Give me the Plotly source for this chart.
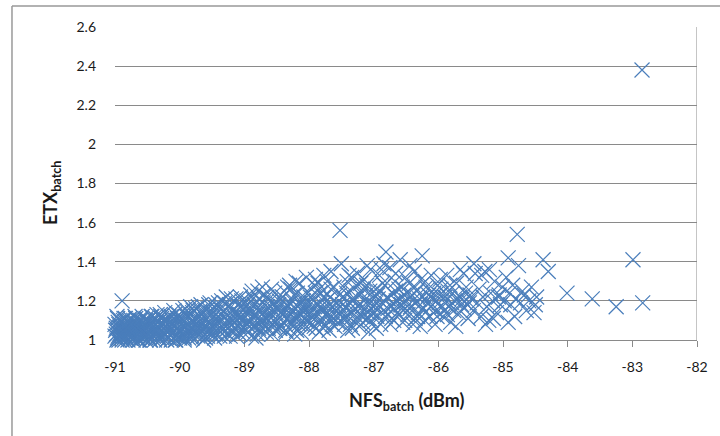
import plotly.graph_objects as go

# NFS_batch (dBm) readings and matching ETX_batch values, grouped by half-dB bands
nfs_a = [-91.00, -90.98, -90.97, -90.95, -90.93, -90.92, -90.90, -90.88, -90.87, -90.85,
         -90.84, -90.82, -90.80, -90.79, -90.77, -90.75, -90.74, -90.72, -90.70, -90.69,
         -90.67, -90.65, -90.63, -90.62, -90.60, -90.58, -90.57, -90.55, -90.53, -90.51,
         -90.99, -90.96, -90.94, -90.91, -90.89, -90.86, -90.83, -90.81, -90.78, -90.76,
         -90.73, -90.71, -90.68, -90.66, -90.64, -90.61, -90.59, -90.56, -90.54, -90.52,
         -90.97, -90.91, -90.86, -90.80, -90.74, -90.69, -90.63, -90.58, -90.53, -90.50,
         -90.89,
         -91.00, -90.98, -90.96, -90.94, -90.92, -90.90, -90.88, -90.86, -90.84, -90.82,
         -90.80, -90.78, -90.76, -90.74, -90.72, -90.70, -90.68, -90.66, -90.64, -90.62,
         -90.60, -90.58, -90.56, -90.54, -90.52, -90.50, -90.95, -90.85, -90.75, -90.65]
etx_a = [1.02, 1.06, 1.00, 1.09, 1.03, 1.07, 1.01, 1.05, 1.10, 1.02,
         1.08, 1.04, 1.00, 1.06, 1.11, 1.03, 1.07, 1.01, 1.09, 1.04,
         1.02, 1.08, 1.05, 1.00, 1.10, 1.03, 1.06, 1.01, 1.08, 1.04,
         1.05, 1.01, 1.08, 1.04, 1.00, 1.07, 1.02, 1.09, 1.03, 1.01,
         1.05, 1.10, 1.02, 1.06, 1.00, 1.04, 1.07, 1.02, 1.05, 1.00,
         1.12, 1.03, 1.11, 1.06, 1.02, 1.12, 1.07, 1.01, 1.10, 1.03,
         1.20,
         1.08, 1.03, 1.11, 1.00, 1.06, 1.09, 1.02, 1.04, 1.11, 1.07,
         1.03, 1.10, 1.05, 1.09, 1.00, 1.06, 1.11, 1.03, 1.08, 1.10,
         1.05, 1.12, 1.09, 1.03, 1.11, 1.07, 1.02, 1.00, 1.08, 1.01]

nfs_b = [-90.49, -90.47, -90.45, -90.43, -90.41, -90.39, -90.37, -90.35, -90.33, -90.31,
         -90.29, -90.27, -90.25, -90.23, -90.21, -90.19, -90.17, -90.15, -90.13, -90.11,
         -90.09, -90.07, -90.05, -90.03, -90.01,
         -90.48, -90.44, -90.40, -90.36, -90.32, -90.28, -90.24, -90.20, -90.16, -90.12,
         -90.08, -90.04, -90.00,
         -90.46, -90.38, -90.30, -90.22, -90.14, -90.06,
         -90.49, -90.47, -90.45, -90.43, -90.41, -90.39, -90.37, -90.35, -90.33, -90.31,
         -90.29, -90.27, -90.25, -90.23, -90.21, -90.19, -90.17, -90.15, -90.13, -90.11,
         -90.09, -90.07, -90.05, -90.03, -90.01]
etx_b = [1.06, 1.01, 1.09, 1.03, 1.07, 1.00, 1.11, 1.04, 1.02, 1.08,
         1.05, 1.01, 1.10, 1.03, 1.07, 1.02, 1.12, 1.05, 1.00, 1.09,
         1.04, 1.07, 1.02, 1.11, 1.05,
         1.03, 1.12, 1.05, 1.08, 1.01, 1.11, 1.06, 1.00, 1.09, 1.03,
         1.13, 1.06, 1.01,
         1.00, 1.04, 1.13, 1.09, 1.07, 1.00,
         1.10, 1.04, 1.00, 1.12, 1.02, 1.08, 1.05, 1.13, 1.07, 1.00,
         1.12, 1.08, 1.03, 1.14, 1.10, 1.06, 1.01, 1.09, 1.12, 1.04,
         1.15, 1.00, 1.10, 1.03, 1.13]

nfs_c = [-89.98, -89.96, -89.94, -89.92, -89.90, -89.88, -89.86, -89.84, -89.82, -89.80,
         -89.78, -89.76, -89.74, -89.72, -89.70, -89.68, -89.66, -89.64, -89.62, -89.60,
         -89.58, -89.56, -89.54, -89.52, -89.50,
         -89.97, -89.93, -89.89, -89.85, -89.81, -89.77, -89.73, -89.69, -89.65, -89.61,
         -89.57, -89.53,
         -89.91, -89.79, -89.71, -89.63, -89.55,
         -89.99, -89.97, -89.95, -89.93, -89.91, -89.89, -89.87, -89.85, -89.83, -89.81,
         -89.79, -89.77, -89.75, -89.73, -89.71, -89.69, -89.67, -89.65, -89.63, -89.61,
         -89.59, -89.57, -89.55, -89.53, -89.51]
etx_c = [1.04, 1.10, 1.02, 1.07, 1.13, 1.05, 1.01, 1.09, 1.06, 1.14,
         1.03, 1.08, 1.11, 1.02, 1.06, 1.15, 1.04, 1.09, 1.12, 1.01,
         1.07, 1.16, 1.05, 1.10, 1.03,
         1.08, 1.00, 1.12, 1.04, 1.01, 1.11, 1.07, 1.03, 1.13, 1.06,
         1.02, 1.14,
         1.16, 1.15, 1.17, 1.00, 1.18,
         1.11, 1.06, 1.15, 1.01, 1.09, 1.03, 1.14, 1.07, 1.17, 1.02,
         1.10, 1.05, 1.16, 1.08, 1.03, 1.12, 1.18, 1.06, 1.02, 1.15,
         1.11, 1.04, 1.09, 1.19, 1.07]

nfs_d = [-89.49, -89.47, -89.45, -89.43, -89.41, -89.39, -89.37, -89.35, -89.33, -89.31,
         -89.29, -89.27, -89.25, -89.23, -89.21, -89.19, -89.17, -89.15, -89.13, -89.11,
         -89.09, -89.07, -89.05, -89.03, -89.01,
         -89.46, -89.40, -89.34, -89.28, -89.22, -89.16, -89.10, -89.04,
         -89.44, -89.32, -89.20, -89.08,
         -89.48, -89.46, -89.44, -89.42, -89.40, -89.38, -89.36, -89.34, -89.32, -89.30,
         -89.28, -89.26, -89.24, -89.22, -89.20, -89.18, -89.16, -89.14, -89.12, -89.10,
         -89.08, -89.06, -89.04, -89.02, -89.00]
etx_d = [1.07, 1.12, 1.03, 1.16, 1.09, 1.05, 1.13, 1.20, 1.08, 1.02,
         1.14, 1.10, 1.06, 1.18, 1.11, 1.04, 1.15, 1.09, 1.21, 1.07,
         1.13, 1.03, 1.17, 1.10, 1.06,
         1.01, 1.19, 1.05, 1.22, 1.02, 1.12, 1.04, 1.20,
         1.10, 1.15, 1.08, 1.11,
         1.14, 1.04, 1.18, 1.08, 1.12, 1.02, 1.16, 1.10, 1.06, 1.19,
         1.13, 1.03, 1.17, 1.09, 1.21, 1.05, 1.14, 1.11, 1.02, 1.18,
         1.07, 1.22, 1.12, 1.04, 1.16]

nfs_e = [-88.99, -88.97, -88.95, -88.93, -88.91, -88.89, -88.87, -88.85, -88.83, -88.81,
         -88.79, -88.77, -88.75, -88.73, -88.71, -88.69, -88.67, -88.65, -88.63, -88.61,
         -88.59, -88.57, -88.55, -88.53, -88.51,
         -88.96, -88.90, -88.84, -88.78, -88.72, -88.66, -88.60, -88.54,
         -88.94, -88.82, -88.70, -88.58,
         -88.98, -88.96, -88.94, -88.92, -88.90, -88.88, -88.86, -88.84, -88.82, -88.80,
         -88.78, -88.76, -88.74, -88.72, -88.70, -88.68, -88.66, -88.64, -88.62, -88.60,
         -88.58, -88.56, -88.54, -88.52, -88.50]
etx_e = [1.12, 1.05, 1.18, 1.09, 1.14, 1.02, 1.21, 1.11, 1.07, 1.16,
         1.25, 1.10, 1.04, 1.13, 1.19, 1.08, 1.15, 1.22, 1.06, 1.12,
         1.17, 1.03, 1.10, 1.24, 1.14,
         1.08, 1.23, 1.13, 1.06, 1.27, 1.11, 1.20, 1.07,
         1.16, 1.01, 1.10, 1.13,
         1.09, 1.20, 1.04, 1.15, 1.11, 1.25, 1.07, 1.18, 1.13, 1.03,
         1.21, 1.16, 1.09, 1.06, 1.23, 1.12, 1.04, 1.17, 1.10, 1.14,
         1.26, 1.08, 1.19, 1.05, 1.16]

nfs_f = [-88.49, -88.47, -88.45, -88.43, -88.41, -88.39, -88.37, -88.35, -88.33, -88.31,
         -88.29, -88.27, -88.25, -88.23, -88.21, -88.19, -88.17, -88.15, -88.13, -88.11,
         -88.09, -88.07, -88.05, -88.03, -88.01,
         -88.46, -88.40, -88.34, -88.28, -88.22, -88.16, -88.10, -88.04,
         -88.44, -88.32, -88.20, -88.08,
         -88.48, -88.46, -88.44, -88.42, -88.40, -88.38, -88.36, -88.34, -88.32, -88.30,
         -88.28, -88.26, -88.24, -88.22, -88.20, -88.18, -88.16, -88.14, -88.12, -88.10,
         -88.08, -88.06, -88.04, -88.02, -88.00]
etx_f = [1.10, 1.18, 1.06, 1.14, 1.22, 1.09, 1.16, 1.04, 1.27, 1.12,
         1.19, 1.08, 1.15, 1.23, 1.11, 1.05, 1.17, 1.29, 1.13, 1.08,
         1.20, 1.15, 1.10, 1.25, 1.06,
         1.20, 1.13, 1.11, 1.26, 1.03, 1.12, 1.17, 1.32,
         1.07, 1.17, 1.30, 1.14,
         1.16, 1.06, 1.21, 1.13, 1.09, 1.25, 1.05, 1.18, 1.14, 1.28,
         1.10, 1.20, 1.07, 1.16, 1.12, 1.24, 1.08, 1.19, 1.04, 1.15,
         1.22, 1.11, 1.18, 1.09, 1.13]

nfs_g = [-87.99, -87.97, -87.95, -87.93, -87.91, -87.89, -87.87, -87.85, -87.83, -87.81,
         -87.79, -87.77, -87.75, -87.73, -87.71, -87.69, -87.67, -87.65, -87.63, -87.61,
         -87.59, -87.57, -87.55, -87.53, -87.51,
         -87.96, -87.90, -87.84, -87.78, -87.72, -87.66, -87.60, -87.54,
         -87.52, -87.50,
         -87.98, -87.96, -87.94, -87.92, -87.90, -87.88, -87.86, -87.84, -87.82, -87.80,
         -87.78, -87.76, -87.74, -87.72, -87.70, -87.68, -87.66, -87.64, -87.62, -87.58]
etx_g = [1.15, 1.09, 1.21, 1.12, 1.28, 1.06, 1.18, 1.13, 1.24, 1.10,
         1.16, 1.33, 1.08, 1.20, 1.14, 1.05, 1.22, 1.17, 1.11, 1.27,
         1.15, 1.19, 1.09, 1.23, 1.13,
         1.19, 1.31, 1.04, 1.25, 1.12, 1.35, 1.07, 1.18,
         1.56, 1.39,
         1.22, 1.12, 1.17, 1.07, 1.24, 1.14, 1.29, 1.10, 1.19, 1.15,
         1.06, 1.22, 1.13, 1.30, 1.17, 1.11, 1.26, 1.08, 1.20, 1.12]

nfs_h = [-87.49, -87.47, -87.45, -87.43, -87.41, -87.39, -87.37, -87.35, -87.33, -87.31,
         -87.29, -87.27, -87.25, -87.23, -87.21, -87.19, -87.17, -87.15, -87.13, -87.11,
         -87.09, -87.07, -87.05, -87.03, -87.01,
         -87.46, -87.40, -87.34, -87.28, -87.22, -87.16, -87.10, -87.04,
         -87.44, -87.32, -87.20, -87.08,
         -87.48, -87.45, -87.42, -87.39, -87.36, -87.33, -87.30, -87.27, -87.24, -87.21,
         -87.18, -87.15, -87.12, -87.09, -87.06, -87.03, -87.00, -87.38]
etx_h = [1.14, 1.22, 1.08, 1.17, 1.30, 1.12, 1.19, 1.25, 1.06, 1.15,
         1.21, 1.10, 1.34, 1.18, 1.13, 1.24, 1.09, 1.20, 1.16, 1.28,
         1.11, 1.19, 1.36, 1.14, 1.22,
         1.27, 1.05, 1.32, 1.16, 1.07, 1.26, 1.38, 1.10,
         1.12, 1.20, 1.29, 1.04,
         1.18, 1.11, 1.24, 1.15, 1.08, 1.21, 1.13, 1.28, 1.17, 1.23,
         1.12, 1.31, 1.19, 1.14, 1.25, 1.08, 1.17, 1.33]

nfs_i = [-86.99, -86.97, -86.95, -86.93, -86.91, -86.89, -86.87, -86.85, -86.83, -86.81,
         -86.79, -86.77, -86.75, -86.73, -86.71, -86.69, -86.67, -86.65, -86.63, -86.61,
         -86.59, -86.57, -86.55, -86.53, -86.51,
         -86.96, -86.90, -86.84, -86.78, -86.72, -86.66, -86.60, -86.54,
         -86.98, -86.94, -86.90, -86.86, -86.82, -86.78, -86.74, -86.70, -86.66, -86.62,
         -86.58, -86.56, -86.52, -86.88, -86.68]
etx_i = [1.18, 1.26, 1.12, 1.21, 1.33, 1.08, 1.19, 1.15, 1.28, 1.45,
         1.22, 1.13, 1.37, 1.17, 1.24, 1.10, 1.30, 1.20, 1.14, 1.26,
         1.41, 1.18, 1.09, 1.23, 1.32,
         1.06, 1.25, 1.39, 1.16, 1.11, 1.34, 1.21, 1.15,
         1.14, 1.23, 1.17, 1.29, 1.12, 1.21, 1.08, 1.19, 1.25, 1.13,
         1.18, 1.27, 1.10, 1.36, 1.16]

nfs_j = [-86.49, -86.47, -86.45, -86.43, -86.41, -86.39, -86.37, -86.35, -86.33, -86.31,
         -86.29, -86.27, -86.25, -86.23, -86.21, -86.19, -86.17, -86.15, -86.13, -86.11,
         -86.09, -86.07, -86.05, -86.03, -86.01,
         -86.44, -86.36, -86.28, -86.20, -86.12, -86.04,
         -86.48, -86.44, -86.40, -86.36, -86.32, -86.28, -86.24, -86.20, -86.16, -86.12,
         -86.08, -86.02]
etx_j = [1.20, 1.13, 1.29, 1.17, 1.23, 1.08, 1.35, 1.19, 1.25, 1.14,
         1.21, 1.31, 1.43, 1.16, 1.10, 1.27, 1.19, 1.23, 1.12, 1.33,
         1.18, 1.24, 1.08, 1.20, 1.28,
         1.38, 1.11, 1.07, 1.30, 1.22, 1.15,
         1.24, 1.16, 1.20, 1.27, 1.12, 1.18, 1.22, 1.14, 1.26, 1.17,
         1.21, 1.12]

nfs_k = [-85.99, -85.96, -85.93, -85.90, -85.87, -85.84, -85.81, -85.78, -85.75, -85.72,
         -85.69, -85.66, -85.63, -85.60, -85.57, -85.54, -85.51,
         -85.97, -85.91, -85.85, -85.79, -85.73, -85.67, -85.61, -85.55,
         -85.98, -85.94, -85.88, -85.82, -85.76, -85.70, -85.64, -85.58, -85.52, -85.86]
etx_k = [1.19, 1.26, 1.12, 1.22, 1.33, 1.17, 1.09, 1.24, 1.20, 1.29,
         1.14, 1.36, 1.21, 1.16, 1.27, 1.11, 1.23,
         1.31, 1.15, 1.25, 1.19, 1.07, 1.22, 1.34, 1.18,
         1.23, 1.17, 1.20, 1.28, 1.15, 1.21, 1.18, 1.24, 1.19, 1.13]

nfs_l = [-85.49, -85.46, -85.43, -85.40, -85.37, -85.34, -85.31, -85.28, -85.25, -85.22,
         -85.19, -85.16, -85.13, -85.10, -85.07, -85.04, -85.01,
         -85.45, -85.33, -85.27, -85.21, -85.15, -85.06]
etx_l = [1.21, 1.15, 1.34, 1.19, 1.26, 1.12, 1.22, 1.35, 1.17, 1.10,
         1.24, 1.20, 1.30, 1.14, 1.22, 1.18, 1.27,
         1.39, 1.33, 1.08, 1.36, 1.11, 1.23]

nfs_m = [-84.98, -84.95, -84.92, -84.92, -84.90, -84.88, -84.85, -84.82, -84.80, -84.78,
         -84.76, -84.73, -84.70, -84.67, -84.64, -84.60, -84.56, -84.52, -84.50, -84.48,
         -84.38, -84.30, -84.01, -83.62, -83.25, -82.99, -82.84, -82.85]
etx_m = [1.20, 1.32, 1.42, 1.09, 1.24, 1.18, 1.28, 1.12, 1.21, 1.54,
         1.38, 1.19, 1.25, 1.23, 1.15, 1.20, 1.27, 1.14, 1.18, 1.22,
         1.41, 1.35, 1.24, 1.21, 1.17, 1.41, 1.19, 2.38]

nfs = (nfs_a + nfs_b + nfs_c + nfs_d + nfs_e + nfs_f + nfs_g
       + nfs_h + nfs_i + nfs_j + nfs_k + nfs_l + nfs_m)
etx = (etx_a + etx_b + etx_c + etx_d + etx_e + etx_f + etx_g
       + etx_h + etx_i + etx_j + etx_k + etx_l + etx_m)

x_ticks = [-91, -90, -89, -88, -87, -86, -85, -84, -83, -82]
x_labels = ["-91", "-90", "-89", "-88", "-87", "-86", "-85", "-84", "-83", "-82"]
y_ticks = [1, 1.2, 1.4, 1.6, 1.8, 2, 2.2, 2.4, 2.6]
y_labels = ["1", "1.2", "1.4", "1.6", "1.8", "2", "2.2", "2.4", "2.6"]

FONT = "Lato, 'Open Sans', sans-serif"
TEXT = "#1a1a1a"
GRID = "#8a8a8a"
BLUE = "#4a7ebb"

fig = go.Figure()
fig.add_trace(go.Scatter(
    x=nfs, y=etx, mode="markers", cliponaxis=False,
    marker=dict(symbol="x-thin", size=15, color=BLUE,
                line=dict(color=BLUE, width=1.2)),
    hoverinfo="x+y", showlegend=False,
))

fig.update_layout(
    width=720, height=436,
    margin=dict(l=115, r=23, t=27, b=96),
    paper_bgcolor="white", plot_bgcolor="white",
    font=dict(family=FONT, size=14, color=TEXT),
    xaxis=dict(
        range=[-91, -82], tickvals=x_ticks, ticktext=x_labels,
        showgrid=False, zeroline=False, layer="below traces",
        showline=True, linecolor=GRID, linewidth=1,
        ticks="outside", ticklen=6, tickcolor=GRID, tickwidth=1,
        ticklabelstandoff=8, tickfont=dict(size=14, color=TEXT),
    ),
    yaxis=dict(
        range=[1, 2.6], tickvals=y_ticks, ticktext=y_labels,
        showgrid=True, gridcolor=GRID, gridwidth=1, zeroline=False,
        showline=False, ticks="", ticklabelstandoff=18, layer="below traces",
        tickfont=dict(size=14, color=TEXT),
    ),
    shapes=[
        # vertical axis line drawn on the right side of the plot
        dict(type="line", xref="x", yref="paper", x0=-82, x1=-82, y0=0, y1=1,
             layer="below", line=dict(color=GRID, width=1)),
        # chart-area frame (top and left edges)
        dict(type="line", xref="paper", yref="paper", x0=-0.177, x1=1.2, y0=1.067, y1=1.067,
             line=dict(color="#999999", width=1.5)),
        dict(type="line", xref="paper", yref="paper", x0=-0.177, x1=-0.177, y0=1.067, y1=-0.5,
             line=dict(color="#999999", width=1.5)),
    ],
    annotations=[
        dict(text="<b>NFS<sub>batch</sub> (dBm)</b>", xref="paper", yref="paper",
             x=0.5, y=-0.198, showarrow=False, font=dict(size=18, family=FONT, color=TEXT),
             xanchor="center", yanchor="middle"),
        dict(text="<b>ETX<sub>batch</sub></b>", xref="paper", yref="paper",
             x=-0.108, y=0.47, showarrow=False, textangle=-90,
             font=dict(size=18, family=FONT, color=TEXT),
             xanchor="center", yanchor="middle"),
    ],
)

fig.write_html("out.html")
